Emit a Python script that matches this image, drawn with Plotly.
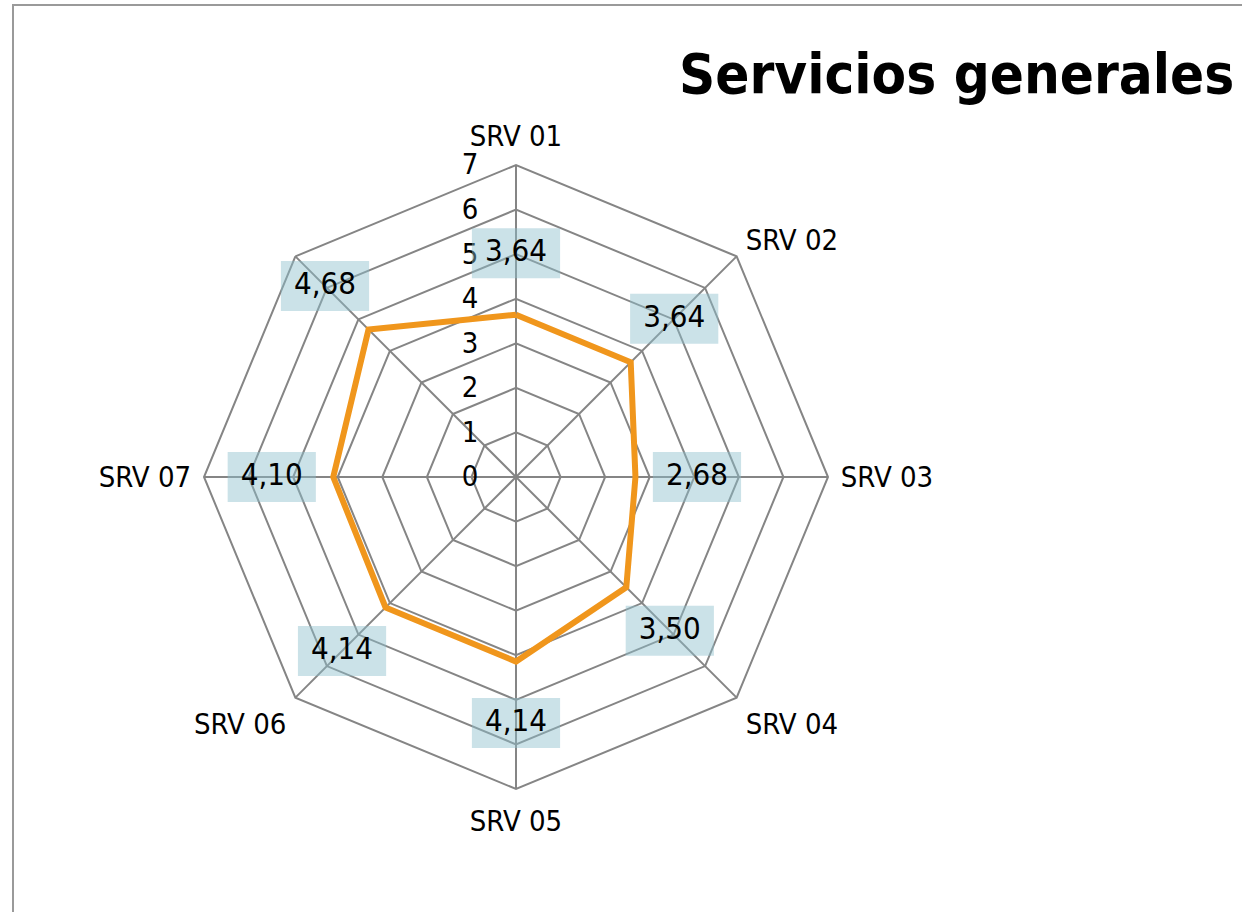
import plotly.graph_objects as go

categories = ["SRV 01", "SRV 02", "SRV 03", "SRV 04", "SRV 05", "SRV 06", "SRV 07", "SRV 08"]
category_labels = ["SRV 01", "SRV 02", "SRV 03", "SRV 04", "SRV 05", "SRV 06", "SRV 07", ""]
values = [3.64, 3.64, 2.68, 3.50, 4.14, 4.14, 4.10, 4.68]
value_labels = ["3,64", "3,64", "2,68", "3,50", "4,14", "4,14", "4,10", "4,68"]
radial_ticks = [0, 1, 2, 3, 4, 5, 6, 7]
title_text = "Servicios generales"

W, H = 1242, 912
cx, cy, R = 516, 477, 312
label_offset = 1.38

FONT = "Liberation Sans Narrow, DejaVu Sans Condensed, Arial Narrow, sans-serif"
GRID = "#858585"

r_closed = values + [values[0]]
theta_closed = categories + [categories[0]]
label_r = [v + label_offset for v in values]

fig = go.Figure()

fig.add_trace(go.Scatterpolar(
    r=r_closed, theta=theta_closed, mode="lines",
    line=dict(color="#F0961C", width=6),
    hoverinfo="skip", showlegend=False,
))

fig.add_trace(go.Scatterpolar(
    r=label_r, theta=categories, mode="markers",
    marker=dict(symbol="line-ew", size=63, color="rgba(140,190,205,0.45)",
                line=dict(color="rgba(140,190,205,0.45)", width=50)),
    hoverinfo="skip", showlegend=False,
))

fig.add_trace(go.Scatterpolar(
    r=label_r, theta=categories, mode="text",
    text=value_labels, textposition="middle center",
    textfont=dict(family=FONT, size=31, color="#000000"),
    hoverinfo="skip", showlegend=False,
))

fig.update_layout(
    width=W, height=H,
    margin=dict(l=0, r=0, t=0, b=0),
    paper_bgcolor="white", plot_bgcolor="white",
    showlegend=False,
    polar=dict(
        domain=dict(x=[(cx - R) / W, (cx + R) / W], y=[(H - cy - R) / H, (H - cy + R) / H]),
        bgcolor="white",
        gridshape="linear",
        radialaxis=dict(
            range=[0, 7], tickvals=radial_ticks, ticktext=[str(t) for t in radial_ticks],
            angle=90, tickangle=90, side="counterclockwise",
            showline=False, gridcolor=GRID, gridwidth=2,
            ticks="outside", ticklen=27, tickcolor="rgba(0,0,0,0)",
            tickfont=dict(family=FONT, size=29, color="#000000"),
            layer="below traces",
        ),
        angularaxis=dict(
            direction="clockwise", rotation=90,
            categoryorder="array", categoryarray=categories,
            tickmode="array", tickvals=categories, ticktext=category_labels,
            showline=True, linecolor=GRID, linewidth=2,
            gridcolor=GRID, gridwidth=2,
            ticks="outside", ticklen=6, tickcolor="rgba(0,0,0,0)",
            tickfont=dict(family=FONT, size=29, color="#000000"),
            layer="below traces",
        ),
    ),
    annotations=[dict(
        text="<b>" + title_text + "</b>", xref="paper", yref="paper",
        x=1236 / W, y=1 - 73 / H, xanchor="right", yanchor="middle",
        showarrow=False, font=dict(family=FONT, size=56, color="#000000"),
    )],
    shapes=[dict(
        type="rect", xref="paper", yref="paper",
        x0=13 / W, x1=1.05, y0=-0.05, y1=1 - 5 / H,
        line=dict(color="#9a9a9a", width=2), fillcolor="rgba(0,0,0,0)",
    )],
)

fig.write_html("out.html", config={"displayModeBar": False},
               post_script="document.body.style.margin='0px';document.body.style.overflow='hidden';")
